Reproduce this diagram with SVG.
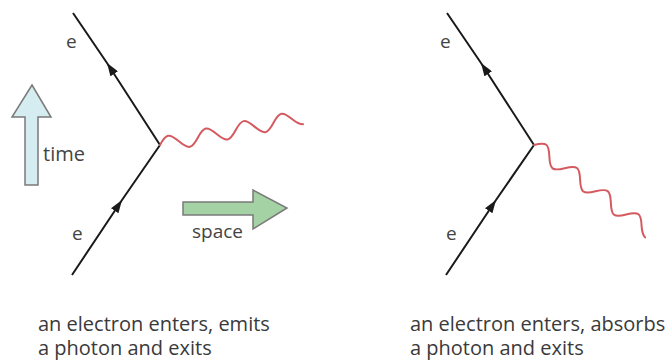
<svg xmlns="http://www.w3.org/2000/svg" xmlns:xlink="http://www.w3.org/1999/xlink" width="670" height="360" viewBox="0 0 670 360">
<style>
.fermion{fill:none;stroke:#1a1a1a;stroke-width:2;marker-mid:url(#head)}
.photon{fill:none;stroke:#d45a60;stroke-width:2;stroke-linecap:round}
.lbl{font-family:"Open Sans","Noto Sans",sans-serif;font-size:19px;fill:#444}
.cap{font-family:"Open Sans","Noto Sans",sans-serif;font-size:20px;fill:#3a3a3a}
.big{stroke:#7a7a7a;stroke-width:1.5;stroke-linejoin:miter}
</style>
<defs>
<marker id="head" viewBox="0 0 13 9" refX="13" refY="4.5" markerWidth="13" markerHeight="9" markerUnits="userSpaceOnUse" orient="auto">
<path d="M0,0 L13,4.5 L0,9 Z" fill="#1a1a1a"/>
</marker>
<path id="wave" d="M0,0 c8.17,-10 11.08,-10 19.25,0 c8.17,10 11.08,10 19.25,0 c8.17,-10 11.08,-10 19.25,0 c8.17,10 11.08,10 19.25,0 c8.17,-10 11.08,-10 19.25,0 c8.17,10 11.08,10 19.25,0 c8.17,-10 11.08,-10 19.25,0 q5,6 9.6,7"/>
</defs>
<rect width="670" height="360" fill="#fff"/>

<g id="axis-time">
<polygon class="big" fill="#d5ecf1" points="32,85 51,117 38,117 38,185 25,185 25,117 12,117"/>
<text class="lbl" x="43" y="161" style="font-size:20px">time</text>
</g>
<g id="axis-space">
<polygon class="big" fill="#a4d2a4" points="183,202 253,202 253,190 287,208 253,229 253,215 183,215"/>
<text class="lbl" x="192" y="238">space</text>
</g>

<g id="connectors">
<path class="fermion" d="M72,275 L122,200 L160,145"/>
<path class="fermion" d="M160,145 L107,63 L73,13"/>
<use class="photon" xlink:href="#wave" href="#wave" transform="translate(160,145) rotate(-11)"/>
<path class="fermion" d="M446,275 L496,200 L534,145"/>
<path class="fermion" d="M534,145 L481,63 L447,13"/>
<use class="photon" xlink:href="#wave" href="#wave" transform="translate(534,145) rotate(37)"/>
</g>

<g id="emission">
<text class="lbl" x="66" y="48">e</text>
<text class="lbl" x="72" y="240">e</text>
<text class="cap" x="38" y="331">an electron enters, emits</text>
<text class="cap" x="38" y="355">a photon and exits</text>
</g>
<g id="absorption">
<text class="lbl" x="440" y="48">e</text>
<text class="lbl" x="446" y="240">e</text>
<text class="cap" x="410" y="331">an electron enters, absorbs</text>
<text class="cap" x="410" y="355">a photon and exits</text>
</g>
</svg>
